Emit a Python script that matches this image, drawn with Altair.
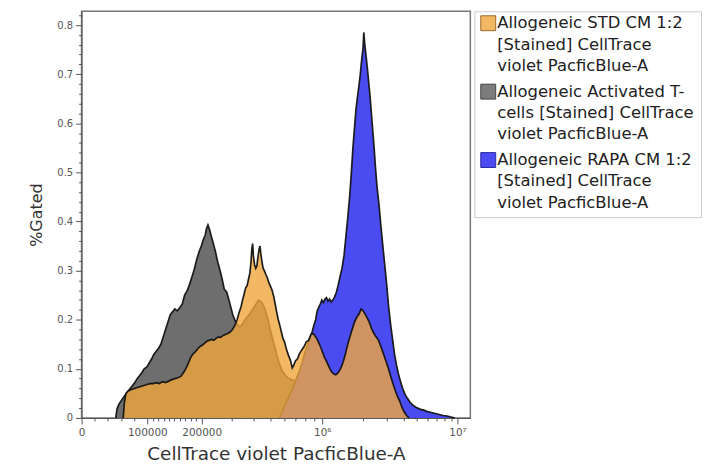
import altair as alt
import pandas as pd
import numpy as np

# ---------------- data (x in display channels 0..1000 of the biexponential axis) ----------------
STD_NAME = "Allogeneic STD CM 1:2 [Stained] CellTrace violet PacficBlue-A"
ACT_NAME = "Allogeneic Activated T-cells [Stained] CellTrace violet PacficBlue-A"
RAPA_NAME = "Allogeneic RAPA CM 1:2 [Stained] CellTrace violet PacficBlue-A"

act_x = [88, 91, 96, 102, 108, 114, 120, 125, 131, 137, 143, 149, 155, 161, 168, 174, 180, 186, 192, 198,
         204, 210, 216, 222, 228, 234, 240, 246, 253, 259, 265, 271, 277, 283, 289, 296, 302, 308, 314, 318,
         321, 325, 329, 333, 338, 344, 350, 355, 361, 367, 373, 379, 385, 389, 395, 401, 407, 413, 419, 425,
         431, 437, 443, 449, 455, 460, 466, 472, 478, 484, 490, 497, 503, 510, 516, 523, 530, 540, 550, 562,
         575, 590, 605, 620, 635, 650, 665, 680, 695, 710, 725, 740, 755, 770, 785, 800, 815, 830, 845, 860]
act_y = [0, 0.018, 0.028, 0.035, 0.042, 0.048, 0.055, 0.06, 0.066, 0.072, 0.08, 0.086, 0.092, 0.1, 0.104,
         0.112, 0.12, 0.13, 0.136, 0.142, 0.15, 0.165, 0.18, 0.195, 0.21, 0.216, 0.222, 0.218, 0.225, 0.232,
         0.25, 0.258, 0.27, 0.285, 0.3, 0.322, 0.338, 0.35, 0.365, 0.372, 0.385, 0.393, 0.384, 0.372, 0.358,
         0.34, 0.318, 0.304, 0.285, 0.262, 0.257, 0.24, 0.222, 0.21, 0.198, 0.19, 0.185, 0.19, 0.198, 0.205,
         0.21, 0.218, 0.225, 0.232, 0.24, 0.238, 0.232, 0.222, 0.205, 0.185, 0.165, 0.145, 0.125, 0.108, 0.096,
         0.088, 0.082, 0.078, 0.075, 0.073, 0.072, 0.07, 0.068, 0.067, 0.065, 0.063, 0.061, 0.058, 0.055, 0.05,
         0.046, 0.041, 0.036, 0.03, 0.024, 0.018, 0.012, 0.007, 0.003, 0]

std_x = [107, 110, 114, 120, 128, 136, 144, 152, 160, 168, 176, 184, 192, 200, 208, 216, 224, 232, 240, 248,
         256, 262, 268, 274, 280, 286, 292, 298, 304, 310, 316, 322, 328, 334, 340, 346, 352, 358, 364, 370,
         376, 382, 388, 394, 400, 405, 410, 414, 418, 422, 426, 430, 433, 436, 438, 440, 442, 445, 448, 451,
         454, 457, 459, 461, 464, 467, 470, 474, 478, 482, 486, 490, 494, 498, 502, 506, 510, 514, 518, 522,
         527, 532, 537, 542, 546, 550, 555, 560, 566, 572, 578, 584, 590, 595, 600, 606, 612, 618, 624, 630,
         636, 642, 648, 654, 660, 666, 672, 678, 684, 690, 696, 702, 708, 714, 719, 724, 729, 734, 740, 746,
         752, 758, 764, 770, 776, 782, 788, 794, 800, 806, 812, 818, 824, 830, 836, 842]
std_y = [0, 0.03, 0.05, 0.055, 0.058, 0.06, 0.062, 0.064, 0.066, 0.068, 0.07, 0.07, 0.072, 0.07, 0.074,
         0.072, 0.075, 0.078, 0.08, 0.082, 0.085, 0.092, 0.1, 0.11, 0.122, 0.13, 0.134, 0.14, 0.145, 0.148,
         0.152, 0.156, 0.158, 0.16, 0.158, 0.162, 0.165, 0.164, 0.168, 0.17, 0.172, 0.175, 0.18, 0.188, 0.2,
         0.214, 0.226, 0.24, 0.252, 0.265, 0.27, 0.285, 0.295, 0.32, 0.345, 0.355, 0.33, 0.312, 0.305, 0.31,
         0.33, 0.345, 0.35, 0.335, 0.318, 0.305, 0.3, 0.292, 0.285, 0.275, 0.268, 0.26, 0.248, 0.232, 0.215,
         0.2, 0.188, 0.175, 0.162, 0.155, 0.14, 0.128, 0.118, 0.102, 0.108, 0.116, 0.12, 0.13, 0.138, 0.145,
         0.155, 0.158, 0.17, 0.172, 0.168, 0.16, 0.15, 0.138, 0.125, 0.115, 0.105, 0.095, 0.09, 0.088, 0.092,
         0.1, 0.112, 0.128, 0.148, 0.165, 0.18, 0.195, 0.205, 0.212, 0.222, 0.218, 0.212, 0.205, 0.195, 0.182,
         0.172, 0.165, 0.158, 0.145, 0.132, 0.118, 0.104, 0.088, 0.072, 0.058, 0.045, 0.035, 0.022, 0.012,
         0.005, 0]

rapa_x = [509, 520, 530, 540, 550, 560, 568, 575, 582, 588, 593, 598, 602, 606, 610, 614, 618, 622, 626, 630,
          634, 638, 642, 646, 650, 655, 660, 665, 670, 675, 680, 685, 690, 694, 698, 702, 706, 710, 714, 717,
          720, 722, 724, 726, 728, 730, 733, 736, 739, 742, 745, 748, 752, 756, 760, 765, 770, 775, 780, 785,
          790, 795, 800, 805, 810, 815, 820, 826, 832, 838, 845, 852, 860, 870, 880, 890, 900, 910, 920, 930,
          940, 950, 960]
rapa_y = [0, 0.02, 0.038, 0.055, 0.075, 0.095, 0.115, 0.135, 0.15, 0.162, 0.175, 0.19, 0.2, 0.218, 0.225,
          0.232, 0.24, 0.235, 0.242, 0.245, 0.238, 0.242, 0.236, 0.24, 0.245, 0.255, 0.27, 0.288, 0.305, 0.33,
          0.37, 0.41, 0.455, 0.5, 0.55, 0.59, 0.63, 0.655, 0.68, 0.7, 0.725, 0.74, 0.752, 0.785, 0.765, 0.75,
          0.728, 0.705, 0.68, 0.655, 0.625, 0.595, 0.555, 0.51, 0.47, 0.435, 0.39, 0.35, 0.31, 0.27, 0.225,
          0.19, 0.16, 0.13, 0.108, 0.09, 0.075, 0.06, 0.048, 0.04, 0.032, 0.026, 0.022, 0.018, 0.016, 0.013,
          0.011, 0.009, 0.007, 0.005, 0.004, 0.002, 0]

# axis: fluorescence values of labelled ticks and their display channel
major_values = [0, 100000, 200000, 1000000, 10000000]
major_labels = ["0", "100000", "200000", "10\u2076", "10\u2077"]
major_channels = [0, 169, 309, 619, 967]
minor_values = ([20000, 40000, 60000, 80000]
                + [110000, 120000, 130000, 140000, 150000, 160000, 170000, 180000, 190000]
                + [300000, 400000, 500000, 600000, 700000, 800000, 900000]
                + [2e6, 3e6, 4e6, 5e6, 6e6, 7e6, 8e6, 9e6])

legend_lines = {
    STD_NAME: ["Allogeneic STD CM 1:2", "[Stained] CellTrace", "violet PacficBlue-A"],
    ACT_NAME: ["Allogeneic Activated T-", "cells [Stained] CellTrace", "violet PacficBlue-A"],
    RAPA_NAME: ["Allogeneic RAPA CM 1:2", "[Stained] CellTrace", "violet PacficBlue-A"],
}
legend_order = [STD_NAME, ACT_NAME, RAPA_NAME]

# ---------------- styles ----------------
fill = {STD_NAME: "#F0A63C", ACT_NAME: "#6E6E6E", RAPA_NAME: "#4B4BF2"}
alpha = {STD_NAME: 0.8, ACT_NAME: 1.0, RAPA_NAME: 1.0}
edge = {STD_NAME: "#9A6A2A", ACT_NAME: "#444444", RAPA_NAME: "#2A2AA0"}
draw_order = [ACT_NAME, RAPA_NAME, STD_NAME]
FONT = "DejaVu Sans"


def to_channel(v):
    """biexponential display transform through the labelled anchors"""
    if v <= 200000:
        return float(np.interp(v, major_values[:3], major_channels[:3]))
    lv = np.log10(v)
    return float(np.interp(lv, np.log10(major_values[2:]), major_channels[2:]))


minor_channels = [round(to_channel(v), 1) for v in minor_values]
x_tick_values = sorted(major_channels + minor_channels)

maj_list = "[" + ",".join(str(c) for c in major_channels) + "]"
x_label_expr = ""
for c, lab in zip(major_channels, major_labels):
    x_label_expr += f"datum.value == {c} ? '{lab}' : "
x_label_expr += "''"
x_major_test = f"indexof({maj_list}, datum.value) >= 0"

y_tick_values = [round(i * 0.02, 2) for i in range(42)]
y_major_test = "abs(datum.value * 10 - round(datum.value * 10)) < 1e-6"
y_label_expr = f"{y_major_test} ? (datum.value == 0 ? '0' : format(datum.value, '.1f')) : ''"

rows = []
for name, xs, ys in [(ACT_NAME, act_x, act_y), (STD_NAME, std_x, std_y), (RAPA_NAME, rapa_x, rapa_y)]:
    for xv, yv in zip(xs, ys):
        rows.append({"series": name, "x": xv, "y": yv})
df = pd.DataFrame(rows)

x_axis = alt.Axis(values=x_tick_values, labelExpr=x_label_expr,
                  tickSize={"condition": {"test": x_major_test, "value": 6}, "value": 3},
                  labelFontSize=10.5, labelColor="#555555", tickColor="#555555", domainColor="#555555",
                  labelFlush=False, labelOverlap=False, grid=False, labelPadding=4,
                  titleFontSize=18.5, titleColor="#333333", titleFontWeight="normal", titlePadding=6,
                  labelFont=FONT, titleFont=FONT)
y_axis = alt.Axis(values=y_tick_values, labelExpr=y_label_expr,
                  tickSize={"condition": {"test": y_major_test, "value": 6}, "value": 3},
                  labelFontSize=10, labelColor="#555555", tickColor="#555555", domainColor="#555555",
                  labelOverlap=False, grid=False, labelPadding=3, labelFlush=False,
                  titleFontSize=16, titleColor="#333333", titleFontWeight="normal", titlePadding=12,
                  labelFont=FONT, titleFont=FONT)

base = alt.Chart(df).encode(
    x=alt.X("x:Q", scale=alt.Scale(domain=[0, 1000], nice=False, zero=False), axis=x_axis,
            title="CellTrace violet PacficBlue-A"),
    y=alt.Y("y:Q", scale=alt.Scale(domain=[0, 0.828], nice=False), axis=y_axis, title="%Gated"),
)

layers = []
for s in draw_order:
    sub = base.transform_filter(alt.datum.series == s)
    layers.append(sub.mark_area(color=fill[s], opacity=alpha[s], interpolate="linear"))
    layers.append(sub.mark_line(color="#141414", strokeWidth=1.7, opacity=0.95))

plot = alt.layer(*layers).properties(width=391, height=409)

# ---------------- legend panel ----------------
leg_rows = []
sw_rows = []
for i, s in enumerate(legend_order):
    for j, t in enumerate(legend_lines[s]):
        leg_rows.append({"series": s, "pos": i * 3.2 + j, "text": t})
    sw_rows.append({"series": s, "pos": i * 3.2})
leg_df = pd.DataFrame(leg_rows)
sw_df = pd.DataFrame(sw_rows)

ly = alt.Y("pos:Q", scale=alt.Scale(domain=[-0.558, 9.07], reverse=True, nice=False, zero=False), axis=None)

leg_text = alt.Chart(leg_df).mark_text(align="left", baseline="middle", font=FONT, fontSize=16.5,
                                        color="#222222").encode(
    x=alt.value(23), y=ly, text="text:N")
leg_sw = alt.Chart(sw_df).mark_square(size=225, strokeWidth=1, opacity=1).encode(
    x=alt.value(14), y=ly,
    fill=alt.Fill("series:N", scale=alt.Scale(domain=legend_order, range=[fill[s] for s in legend_order]),
                  legend=None),
    stroke=alt.Stroke("series:N", scale=alt.Scale(domain=legend_order, range=[edge[s] for s in legend_order]),
                      legend=None),
    fillOpacity=alt.FillOpacity("series:N", scale=alt.Scale(domain=legend_order,
                                                             range=[alpha[s] for s in legend_order]),
                                legend=None),
)
legend = alt.layer(leg_sw, leg_text).properties(
    width=228, height=207, view=alt.ViewBackground(stroke="#cccccc", strokeWidth=1))

chart = alt.hconcat(plot, legend, spacing=2).properties(
    padding={"left": 20, "top": 0, "right": 0, "bottom": 0},
    background="white",
).configure(font=FONT).configure_view(stroke="#777777", strokeWidth=1.5).resolve_scale(
    y="independent", fill="independent", stroke="independent")

chart.save("out.html", embed_options={"renderer": "svg", "actions": False})
